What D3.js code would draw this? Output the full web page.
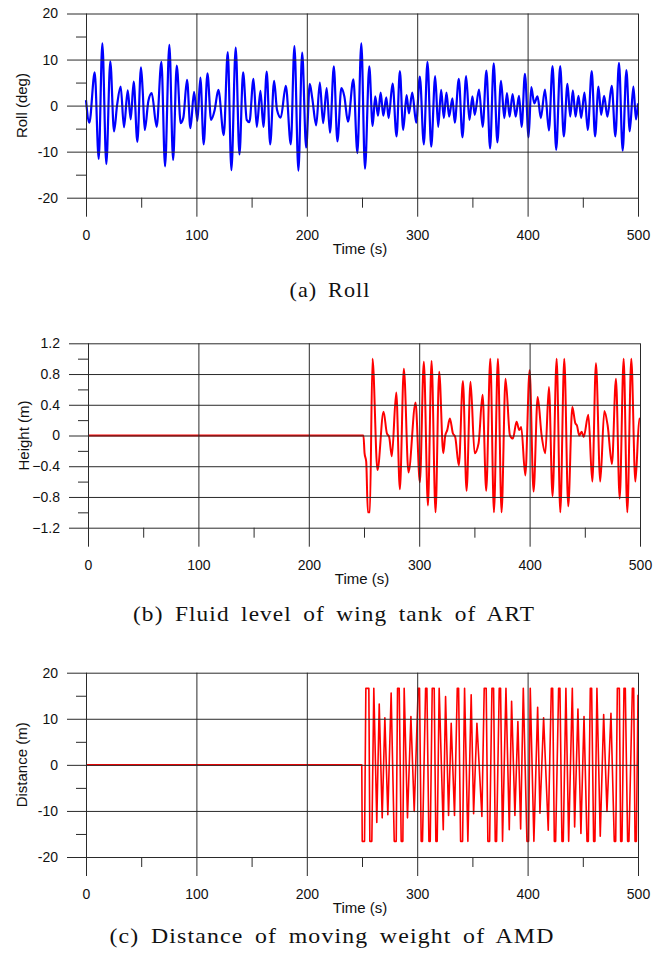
<!DOCTYPE html>
<html>
<head>
<meta charset="utf-8">
<script src="https://cdn.jsdelivr.net/npm/d3@7"></script>
<style>
  html, body { margin: 0; padding: 0; background: #fff; }
  svg { display: block; }
</style>
</head>
<body>
<svg id="chart" width="665" height="960"></svg>
<script>
// ---------------- DATA ----------------
const xTicks = [0, 100, 200, 300, 400, 500];
const xMinorTicks = [50, 150, 250, 350, 450];

const rollTicks = [-20, -10, 0, 10, 20];
const rollMinorTicks = [-15, -5, 5, 15];
const heightTicks = [-1.2, -0.8, -0.4, 0, 0.4, 0.8, 1.2];
const heightMinorTicks = [-1.0, -0.6, -0.2, 0.2, 0.6, 1.0];
const distTicks = [-20, -10, 0, 10, 20];
const distMinorTicks = [-15, -5, 5, 15];

const rollTime = [0,3,7.9,11.5,14.8,18.4,22,25.4,28.2,31.4,34.4,37.8,40.5,43.2,46.5,49.8,51.3,53.2,56.5,59.5,64,68.3,71.6,75.5,78.9,82.2,85.8,88.2,91.5,94.6,97.9,100.9,103.6,106.6,110,113.3,116.5,119.9,124.8,128.4,131.7,135.6,139,142.3,145.6,148,151.7,154.7,158,160.7,163.7,166.8,170.4,173,176.4,181,185.5,188.8,192.4,195.8,199.4,202.7,205,208.5,211.8,214.8,218,221,224.5,227.7,231.3,234,237.3,242.2,245.8,249.4,252.7,256.6,259.6,262,264.5,266.9,269.3,272,274.1,277.7,281.3,284.3,287.3,290.4,292.5,295.5,299.1,302.4,306,309.3,312.7,316.3,319,321.7,324.1,326.5,328.9,331.9,334,337.7,341,344.3,347.3,350,352.1,356,359.3,362.7,366,369.3,372.6,375.9,378.9,381.3,383.7,386.4,389.2,392.2,394.6,397.6,400.9,403.3,406,409,412,415.7,419.3,422.6,425.9,429.5,432.8,436.1,438.6,441,443.4,446.1,448.5,451.5,454.5,458.1,461.1,464.2,466.6,469.3,472.3,476.2,479.5,482.8,486.1,489.5,492.5,495.8,498.2,500];
const rollDeg = [1.2,-3.7,7.2,-11.6,13.5,-12.7,9.6,-5.6,0.2,4.1,-4.7,3.3,-3.0,5.2,-7.9,8.3,3.5,-5.3,1.0,2.7,-4.6,9.5,-13.2,13.2,-11.8,8.7,-3.8,-2.6,5.6,-4.9,3.0,-3.3,6.1,-8.4,7.0,-3.1,-1.0,3.4,-6.4,11.6,-14,12.6,-10.6,7.2,-3.1,-3.6,5.8,-4.6,3.2,-4.6,7.4,-8.4,5.4,-0.9,-2.6,4.3,-8.4,12.9,-14.1,11.5,-9.1,4.7,1.5,-4.3,5,-3.8,3.8,-5.9,8.5,-7.8,3.8,2,-3.5,5.7,-10.3,13.5,-13.7,8.5,-4.4,2,-2.2,2.8,-2.2,1.8,-2.7,4.8,-6.7,7.5,-5.3,2.3,-1.7,2.8,-3.7,6.3,-8.4,9.5,-8.9,6.4,-4.6,3.4,-2.7,2.8,-2.4,1.6,-3.7,5.8,-6.9,6.4,-3.1,2,-2,3.5,-4.6,7.6,-9.3,9.2,-8,5.4,-2.7,2.7,-2.4,2.5,-2.4,2.1,-4.6,6.9,-6.9,4,0.5,2,-2.7,3.5,-5.4,8.6,-9.6,8.6,-6.7,4.7,-2.4,3.3,-2.4,2.1,-2.7,2.8,-5.3,7.5,-6.7,4.1,-2,2.1,-2.4,4.3,-6.7,9.3,-9.8,7.7,-5.6,4.1,-3,0.5];

const heightTime = [0,249.5,250.5,252,253.5,255.3,257.7,262.2,267.7,270.7,272.8,275.2,279.2,282.5,286.1,290.3,296.7,300.6,304.2,307.9,311.2,314.8,318.1,321.8,323.6,325.4,327.8,330.5,332.6,335.9,339.6,342.9,346.5,350.2,353.8,357.4,360.7,364.4,367.7,371.3,374.6,378.2,382.2,384.9,388.2,390.6,392.4,396.1,400,403.6,407.3,410.9,414.2,417.5,420.8,424.5,427.8,431.4,435,438.7,441.4,442.9,445,447.1,449,453.2,456.8,460.1,464,467.7,470.7,474.6,478.2,481.6,485.2,488.5,492.1,495.8,499.4,500];
const heightM = [0,0,-0.23,-0.34,-1.0,-1.0,1.0,-0.45,0.31,0.03,-0.02,-0.27,0.56,-0.7,0.87,-0.48,0.43,-0.61,0.96,-0.91,0.97,-1.0,0.83,-0.23,0,0.07,0.22,0.03,-0.02,-0.39,0.71,-0.72,0.7,-0.23,-0.1,0.53,-0.72,1.0,-1.0,1.0,-1.0,0.74,0,-0.04,0.18,0.07,0.11,-0.52,0.85,-0.73,0.5,0.0,-0.23,0.63,-0.79,1.0,-1.0,1.0,-0.92,0.37,0.16,0.13,0,0.05,-0.02,0.27,-0.6,0.94,-0.6,0.32,0.13,-0.37,0.74,-0.82,1.0,-1.0,1.0,-0.6,0.22,0.2];

const distTime = [0,249.8,250.2,252.3,253.5,256.2,257.1,258.9,260.7,263.4,265.6,268.3,270.7,273.4,276.4,279.2,281,282.2,283.7,285.5,287,288.2,291.2,294.3,297.3,300.9,302.1,303.6,304.8,307.6,308.8,310.6,311.8,313.6,315.4,316.9,318.1,319.9,323.6,325.7,328.4,330.8,333.8,336.3,337.5,339.3,341.1,342.9,345.9,348.9,351.1,354.1,358.6,360.7,362.5,364,365.6,367.7,369.2,370.7,371.9,374.3,375.5,377.3,380.4,383.4,385.5,388.5,391.2,393.7,396.1,399.4,400.9,402.4,405.7,409.1,411.2,414.5,418.7,421.5,422.7,424.2,425.4,428.1,429.3,431.1,432.3,434.7,437.2,440.5,442.6,445.6,448.3,451.1,453.8,455,456.8,458,459.8,461,462.8,465.8,468.9,471.9,475.5,478.5,479.8,481.3,483.1,484.3,485.5,487.3,488.5,490.6,491.8,494.9,496.1,497.3,498.5,500];
const distM = [0,0,-16.6,-16.6,16.6,16.6,-16.6,-16.6,16.6,-12.5,13.2,-11.5,10.2,-10.8,15.6,-16.6,-16.6,16.6,16.6,-16.6,-16.6,16.6,-11.5,10.5,-10.1,16.6,16.6,-16.6,-16.6,16.6,16.6,-16.6,-16.6,16.6,16.6,-16.6,-16.6,16.6,-14.1,14.8,-11,9.0,-11,16.6,16.6,-16.6,-16.6,16.6,-16.6,15.2,-10.6,9.0,-11.2,16.6,16.6,-16.6,-16.6,16.6,16.6,-16.6,-16.6,16.6,16.6,-16.6,16.6,-14.1,13.8,-11,9.4,-13.9,16.6,-16.6,-16.6,16.6,-16.6,12.5,-10.5,10.2,-14.2,16.6,16.6,-16.6,-16.6,16.6,16.6,-16.6,-16.6,16.6,-16.6,16.6,-13.5,12.1,-14.9,10.5,-16.6,-16.6,16.6,16.6,-16.6,-16.6,16.6,-15.5,10.9,-10.1,11.2,-16.6,-16.6,16.6,16.6,-16.6,-16.6,16.6,16.6,-16.6,-16.6,16.6,16.6,-16.6,-16.6,15.2];

const panels = [
  { x0: 86, x1: 638, yTop: 13.5, yBot: 197.7, domain: [-20, 20], ticks: rollTicks, minor: rollMinorTicks,
    fmt: d => String(d), ylabel: "Roll (deg)", t: rollTime, v: rollDeg, color: "#0000ff", width: 2.2,
    curve: d3.curveMonotoneX, caption: "(a) Roll", capX: 330, capY: 297, capLen: 81 },
  { x0: 88, x1: 640, yTop: 343.3, yBot: 527.7, domain: [-1.2, 1.2], ticks: heightTicks, minor: heightMinorTicks,
    fmt: d => d === 0 ? "0" : d3.format(".1f")(d), ylabel: "Height (m)", t: heightTime, v: heightM, color: "#ff0000", width: 2,
    curve: d3.curveMonotoneX, caption: "(b) Fluid level of wing tank of ART", capX: 334, capY: 621, capLen: 402 },
  { x0: 86, x1: 638, yTop: 672.7, yBot: 857, domain: [-20, 20], ticks: distTicks, minor: distMinorTicks,
    fmt: d => String(d), ylabel: "Distance (m)", t: distTime, v: distM, color: "#ff0000", width: 1.6,
    curve: d3.curveLinear, caption: "(c) Distance of moving weight of AMD", capX: 332, capY: 943, capLen: 445 }
];

const svg = d3.select("#chart");
const gridColor = "#2a2a2a";
const ext = 19;

panels.forEach(p => {
  const x = d3.scaleLinear().domain([0, 500]).range([p.x0, p.x1]);
  const y = d3.scaleLinear().domain(p.domain).range([p.yBot, p.yTop]);
  const g = svg.append("g");

  // data line
  const pts = p.t.map((t, i) => [t, p.v[i]]);
  g.append("path")
    .datum(pts)
    .attr("fill", "none")
    .attr("stroke", p.color)
    .attr("stroke-width", p.width)
    .attr("stroke-linejoin", "round")
    .attr("d", d3.line().x(d => x(d[0])).y(d => y(d[1])).curve(p.curve));

  // major horizontal gridlines + y labels
  const yAxis = g.append("g")
    .attr("transform", `translate(${p.x1},0)`)
    .call(d3.axisLeft(y).tickValues(p.ticks).tickFormat(p.fmt)
      .tickSizeInner(p.x1 - p.x0 + ext).tickSizeOuter(0).tickPadding(9));
  yAxis.select(".domain").remove();
  yAxis.selectAll("line").attr("stroke", gridColor).attr("stroke-width", 1);
  yAxis.selectAll("text").attr("font-family", "Liberation Sans, Arial, sans-serif")
    .attr("font-size", 14).attr("fill", "#111");

  // major vertical gridlines + x labels
  const xAxis = g.append("g")
    .attr("transform", `translate(0,${p.yTop})`)
    .call(d3.axisBottom(x).tickValues(xTicks).tickFormat(d => String(d))
      .tickSizeInner(p.yBot - p.yTop + ext).tickSizeOuter(0).tickPadding(13));
  xAxis.select(".domain").remove();
  xAxis.selectAll("line").attr("stroke", gridColor).attr("stroke-width", 1);
  xAxis.selectAll("text").attr("font-family", "Liberation Sans, Arial, sans-serif")
    .attr("font-size", 14).attr("fill", "#111");

  // minor ticks
  const yMinor = g.append("g")
    .attr("transform", `translate(${p.x0},0)`)
    .call(d3.axisLeft(y).tickValues(p.minor).tickFormat("").tickSizeInner(10).tickSizeOuter(0));
  yMinor.select(".domain").remove();
  yMinor.selectAll("line").attr("stroke", gridColor);

  const xMinor = g.append("g")
    .attr("transform", `translate(0,${p.yBot})`)
    .call(d3.axisBottom(x).tickValues(xMinorTicks).tickFormat("").tickSizeInner(10).tickSizeOuter(0));
  xMinor.select(".domain").remove();
  xMinor.selectAll("line").attr("stroke", gridColor);

  // axis titles
  g.append("text")
    .attr("x", (p.x0 + p.x1) / 2 - 2)
    .attr("y", p.yBot + 56)
    .attr("text-anchor", "middle")
    .attr("font-family", "Liberation Sans, Arial, sans-serif")
    .attr("font-size", 15).attr("fill", "#111")
    .text("Time (s)");

  g.append("text")
    .attr("transform", `translate(${p.x0 - 59},${(p.yTop + p.yBot) / 2}) rotate(-90)`)
    .attr("text-anchor", "middle")
    .attr("font-family", "Liberation Sans, Arial, sans-serif")
    .attr("font-size", 15).attr("fill", "#111")
    .text(p.ylabel);

  // caption
  g.append("text")
    .attr("x", p.capX - p.capLen / 2)
    .attr("y", p.capY)
    .attr("font-family", "Liberation Serif, Times New Roman, serif")
    .attr("font-size", 21).attr("fill", "#111")
    .attr("letter-spacing", 1)
    .attr("word-spacing", 4)
    .attr("textLength", p.capLen)
    .attr("lengthAdjust", "spacingAndGlyphs")
    .text(p.caption);
});
</script>
</body>
</html>
